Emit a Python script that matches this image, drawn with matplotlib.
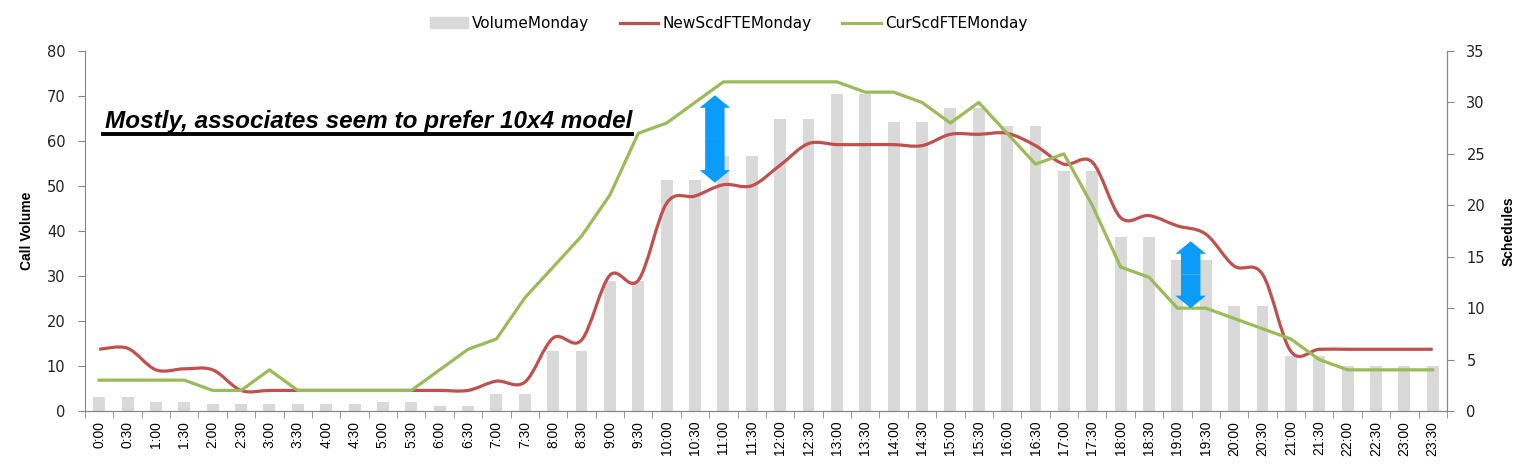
import matplotlib
matplotlib.use("Agg")
import matplotlib.pyplot as plt
from matplotlib.patches import Patch, FancyArrowPatch
from matplotlib.lines import Line2D
from matplotlib.path import Path
from matplotlib.patches import PathPatch

# half-hour slots
times = [f"{h}:{m:02d}" for h in range(24) for m in (0, 30)]

volume = [3.2, 3.2, 2.0, 2.0, 1.5, 1.5, 1.5, 1.5, 1.5, 1.5, 2.0, 2.0,
          1.1, 1.1, 3.8, 3.8, 13.3, 13.3, 29.0, 29.0, 51.3, 51.3, 56.7, 56.7,
          65.0, 65.0, 70.5, 70.5, 64.3, 64.3, 67.3, 67.3, 63.3, 63.3, 53.3, 53.3,
          38.7, 38.7, 33.6, 33.6, 23.3, 23.3, 12.2, 12.2, 10.0, 10.0, 10.0, 10.0]

new_fte = [6.0, 6.1, 4.0, 4.1, 4.0, 2.0, 2.0, 2.0, 2.0, 2.0, 2.0, 2.0,
           2.0, 2.0, 2.9, 2.8, 7.1, 6.9, 13.2, 12.7, 20.2, 20.9, 22.0, 21.9,
           23.9, 26.0, 25.9, 25.9, 25.9, 25.8, 26.9, 26.9, 27.0, 25.8, 24.0, 24.2,
           18.8, 19.0, 18.0, 17.2, 14.1, 13.3, 5.8, 6.0, 6.0, 6.0, 6.0, 6.0]

cur_fte = [3, 3, 3, 3, 2, 2, 4, 2, 2, 2, 2, 2,
           4, 6, 7, 11, 14, 17, 21, 27, 28, 30, 32, 32,
           32, 32, 32, 31, 31, 30, 28, 30, 27, 24, 25, 20,
           14, 13, 10, 10, 9, 8, 7, 5, 4, 4, 4, 4]

BAR_C = "#d9d9d9"
RED = "#c0504d"
GREEN = "#9bbb59"
BLUE = "#0a9cf8"
AXIS_C = "#868686"


def smooth_path(xs, ys):
    """Excel-like smoothed line as a bezier path (Catmull-Rom control points)."""
    n = len(xs)
    verts = [(xs[0], ys[0])]
    codes = [Path.MOVETO]
    for i in range(n - 1):
        x0, y0 = (xs[i - 1], ys[i - 1]) if i > 0 else (xs[i], ys[i])
        x1, y1 = xs[i], ys[i]
        x2, y2 = xs[i + 1], ys[i + 1]
        x3, y3 = (xs[i + 2], ys[i + 2]) if i + 2 < n else (x2, y2)
        verts += [(x1 + (x2 - x0) / 6, y1 + (y2 - y0) / 6),
                  (x2 - (x3 - x1) / 6, y2 - (y3 - y1) / 6),
                  (x2, y2)]
        codes += [Path.CURVE4] * 3
    return Path(verts, codes)


def main():
    fig = plt.figure(figsize=(15.37, 4.68), dpi=100)
    ax = fig.add_axes([0.0553, 0.1218, 0.8861, 0.7692])
    ax2 = ax.twinx()

    x = list(range(len(times)))
    ax.bar(x, volume, width=0.42, color=BAR_C, zorder=2)
    ax.set_xlim(-0.5, len(times) - 0.5)
    ax.set_ylim(0, 80)
    ax.set_yticks(range(0, 81, 10))
    ax2.set_ylim(0, 35)
    ax2.set_yticks(range(0, 36, 5))

    ax2.add_patch(PathPatch(smooth_path(x, new_fte), fill=False,
                            edgecolor=RED, lw=2.3, zorder=3))
    ax2.plot(x, cur_fte, color=GREEN, lw=2.3, zorder=3)

    # x axis: labels at centres, tick marks at category borders
    ax.set_xticks(x)
    ax.set_xticklabels(times, rotation=90, fontsize=10,
                       family=["Liberation Sans", "DejaVu Sans"])
    ax.tick_params(axis="x", which="major", length=0, pad=7)
    ax.set_xticks([i - 0.5 for i in range(len(times) + 1)], minor=True)
    ax.tick_params(axis="x", which="minor", length=5, color=AXIS_C)

    for a in (ax, ax2):
        for s in a.spines.values():
            s.set_color(AXIS_C)
        a.spines["top"].set_visible(False)
        a.tick_params(axis="y", length=5, color=AXIS_C, labelsize=10.5,
                      pad=9, labelcolor="#222222")
    ax2.spines["left"].set_visible(False)

    ax.set_ylabel("Call Volume", fontsize=10, fontweight="bold",
                  family=["Liberation Sans Narrow", "Liberation Sans"], labelpad=9)
    ax2.set_ylabel("Schedules", fontsize=10, fontweight="bold",
                   family=["Liberation Sans Narrow", "Liberation Sans"], labelpad=12)

    # callout text with underline
    txt = ax2.text(0.0147, 0.786, "Mostly, associates seem to prefer 10x4 model",
                   transform=ax2.transAxes, fontsize=17.5, fontweight="bold",
                   fontstyle="italic", family=["Liberation Sans", "DejaVu Sans"],
                   va="baseline", zorder=6)
    fig.canvas.draw()
    bb = txt.get_window_extent().transformed(fig.transFigure.inverted())
    uy = bb.y0 - 0.001
    fig.add_artist(Line2D([bb.x0 - 0.001, bb.x1], [uy, uy], color="black", lw=2.8))

    # double-headed blue arrows
    for ax_x, y_top, y_bot in [(21.7, 30.7, 22.2), (38.47, 16.5, 10.0)]:
        mid = (y_top + y_bot) / 2
        for end in (y_top, y_bot):
            ax2.add_patch(FancyArrowPatch(
                (ax_x, mid), (ax_x, end),
                arrowstyle="simple,head_length=9,head_width=22,tail_width=14",
                mutation_scale=1, shrinkA=0, shrinkB=0,
                color=BLUE, lw=0, zorder=5))

    handles = [Patch(color=BAR_C),
               Line2D([], [], color=RED, lw=2.3),
               Line2D([], [], color=GREEN, lw=2.3)]
    fig.legend(handles, ["VolumeMonday", "NewScdFTEMonday", "CurScdFTEMonday"],
               loc="upper center", bbox_to_anchor=(0.474, 0.995), ncol=3,
               frameon=False, handlelength=2.5, columnspacing=2.0,
               handletextpad=0.3, prop={"family": "DejaVu Sans", "size": 11})

    fig.savefig("out.png", dpi=100)


if __name__ == "__main__":
    main()
